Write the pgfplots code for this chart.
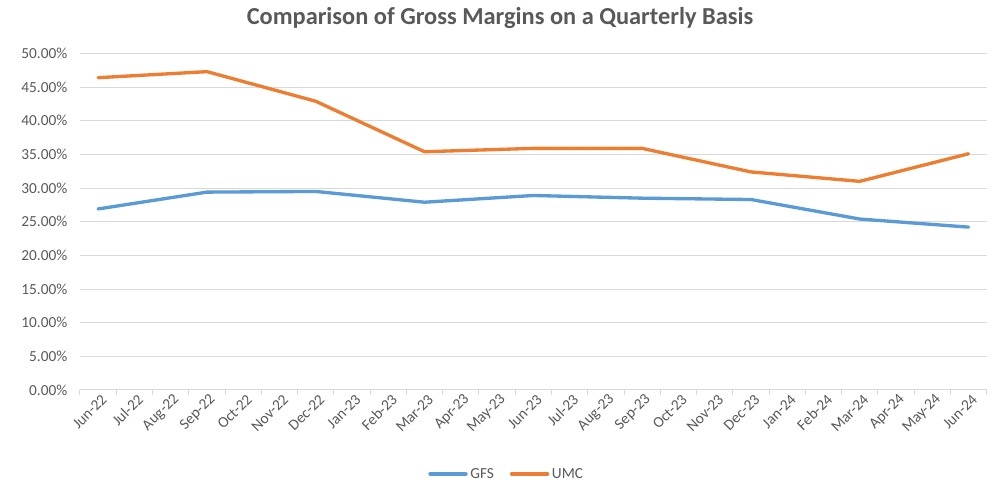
\documentclass[border=0pt]{standalone}
\usepackage{pgfplots}
\pgfplotsset{compat=1.18}
\usepackage{fontspec}
\setmainfont{Carlito}
\definecolor{gfs}{HTML}{5B9BD5}
\definecolor{umc}{HTML}{ED7D31}
\definecolor{txt}{HTML}{595959}
\definecolor{gridc}{HTML}{D9D9D9}
\begin{document}
\begin{tikzpicture}
\path[use as bounding box] (0,0) rectangle (750.75pt,369.75pt);
\begin{axis}[
  at={(60pt,77.25pt)}, anchor=south west,
  scale only axis, width=680pt, height=252.4pt,
  xmin=-0.5, xmax=24.5, ymin=0, ymax=50,
  axis x line*=bottom, axis y line*=left,
  x axis line style={draw=gridc, line width=0.75pt, -},
  y axis line style={draw=none},
  ytick={0,5,...,50},
  yticklabel={\pgfmathprintnumber[fixed,fixed zerofill,precision=2]{\tick}\%},
  /pgf/number format/assume math mode=true,
  ymajorgrids=true,
  grid style={draw=gridc, line width=0.75pt},
  xtick={0,...,24},
  xticklabels={Jun-22,Jul-22,Aug-22,Sep-22,Oct-22,Nov-22,Dec-22,Jan-23,Feb-23,Mar-23,Apr-23,May-23,Jun-23,Jul-23,Aug-23,Sep-23,Oct-23,Nov-23,Dec-23,Jan-24,Feb-24,Mar-24,Apr-24,May-24,Jun-24},
  minor xtick={-0.5,0.5,...,24.5},
  major tick length=0pt,
  minor tick length=4pt,
  tick align=outside,
  tick style={draw=gridc, line width=0.75pt},
  xticklabel style={rotate=45, anchor=east, font=\fontsize{11.5}{12}\selectfont, text=txt, xshift=3pt, yshift=-7pt},
  yticklabel style={font=\fontsize{11.5}{12}\selectfont, text=txt, xshift=-6pt},
  legend style={at={(0.471,-0.25)}, anchor=center, draw=none, fill=none,
    legend columns=2, font=\fontsize{11.5}{12}\selectfont, text=txt,
    /tikz/every even column/.append style={column sep=10pt}},
  legend image code/.code={\draw[#1] (0pt,0pt) -- (27pt,0pt);},
  clip=false,
]
\addplot[gfs, line width=2.5pt, line join=round, line cap=round] coordinates {
(0,26.9) (3,29.4) (6,29.5) (9,27.9) (12,28.9) (15,28.5) (18,28.3) (21,25.4) (24,24.2)};
\addlegendentry{GFS}
\addplot[umc, line width=2.5pt, line join=round, line cap=round] coordinates {
(0,46.4) (3,47.3) (6,42.9) (9,35.4) (12,35.9) (15,35.9) (18,32.4) (21,31.0) (24,35.1)};
\addlegendentry{UMC}
\end{axis}
\node[font=\bfseries\fontsize{18.3}{20}\selectfont, text=txt] at (375pt,356pt) {Comparison of Gross Margins on a Quarterly Basis};
\end{tikzpicture}
\end{document}
